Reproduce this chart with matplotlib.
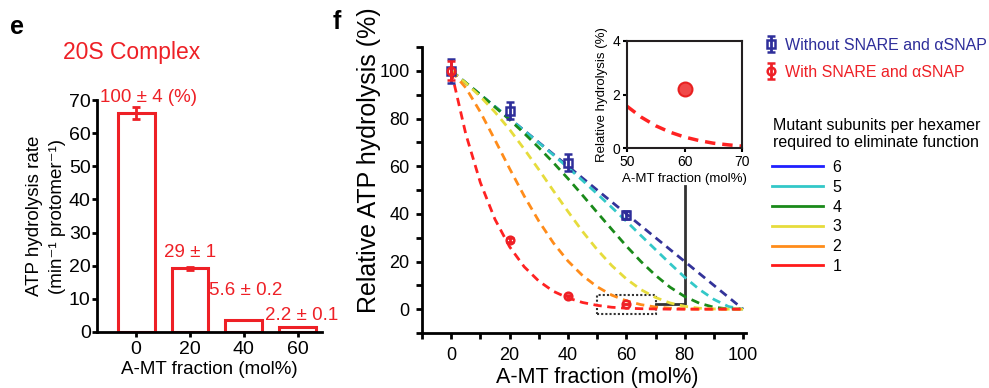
import matplotlib
matplotlib.use("Agg")
import matplotlib.pyplot as plt
from matplotlib.lines import Line2D
from matplotlib.patches import Rectangle

plt.rcParams['font.family'] = ['Liberation Sans', 'DejaVu Sans']

# ---- panel e: 20S complex ATPase rate ----
e_fraction = [0, 20, 40, 60]
e_rate = [66.0, 19.2, 3.7, 1.5]
e_err = [1.8, 0.4, 0.1, 0.05]
e_labels = ["100 ± 4 (%)", "29 ± 1", "5.6 ± 0.2", "2.2 ± 0.1"]
e_label_x = [4.6, 20, 40.8, 61.3]
e_label_y = [70.9, 24.1, 12.4, 5.1]

# ---- panel f: measured relative hydrolysis ----
f_fraction = [0, 20, 40, 60]
without_y = [100, 83.3, 61.5, 39.5]
without_err = [5.0, 3.7, 3.5, 1.5]
with_y = [100, 29.0, 5.6, 2.2]
with_err = [4.0, 1.0, 0.2, 0.1]

# model curves (every 5 mol%)
model_x = [0, 5, 10, 15, 20, 25, 30, 35, 40, 45, 50, 55, 60, 65, 70, 75, 80, 85, 90, 95, 100]
curve_6 = [100, 95, 90, 85, 80, 75, 70, 65, 60, 55, 50, 45, 40, 35, 30, 25, 20, 15, 10, 5, 0]
curve_5 = [100, 95.0, 90.0, 85.0, 80.0, 74.9, 69.8, 64.7, 59.4, 54.0, 48.4, 42.7, 36.9, 30.9, 25.0, 19.1, 13.4, 8.3, 4.1, 1.1, 0]
curve_4 = [100, 95.0, 90.0, 84.8, 79.5, 73.8, 67.8, 61.5, 54.8, 47.8, 40.6, 33.5, 26.5, 20.0, 14.2, 9.2, 5.3, 2.5, 0.8, 0.1, 0]
curve_3 = [100, 94.9, 89.2, 82.7, 75.4, 67.2, 58.6, 49.7, 41.0, 32.6, 25.0, 18.3, 12.7, 8.2, 4.9, 2.6, 1.2, 0.4, 0.1, 0.0, 0]
curve_2 = [100, 92.9, 82.7, 71.0, 59.0, 47.5, 37.0, 27.8, 20.2, 14.1, 9.4, 5.9, 3.5, 1.9, 0.9, 0.4, 0.1, 0.0, 0, 0, 0]
curve_1 = [100, 73.5, 53.1, 37.7, 26.2, 17.8, 11.8, 7.5, 4.7, 2.8, 1.6, 0.8, 0.4, 0.2, 0.1, 0, 0, 0, 0, 0, 0]

# inset (zoom of 50-70 mol%)
inset_x = [50, 52.5, 55, 57.5, 60, 62.5, 65, 67.5, 70]
inset_curve = [1.56, 1.15, 0.83, 0.59, 0.41, 0.28, 0.18, 0.12, 0.07]
inset_point_x = [60]
inset_point_y = [2.2]
inset_point_err = [0.1]

# zoom box and connector in main axes
zoom_box = [50, 70, -2, 6]
connector_x = [70, 80, 80]
connector_y = [2, 2, 51.5]

n_labels = ['6', '5', '4', '3', '2', '1']
curve_colors = ['#333399', '#33c8c8', '#1a8a1a', '#e6dc3c', '#ff8c1a', '#ff2222']
legend_colors = ['#2020ff', '#33c8c8', '#1a8a1a', '#e6dc3c', '#ff8c1a', '#ff1a1a']

RED = '#ee2026'
BLUE = '#2e2e9a'

fig = plt.figure(figsize=(9.89, 3.88), dpi=100)

# ================= panel e =================
ax_e = fig.add_axes([97/989, 56/388, 225/989, 232/388])
ax_e.bar(e_fraction, e_rate, width=13.7, facecolor='white', edgecolor=RED, linewidth=2.2)
ax_e.errorbar(e_fraction[:2], e_rate[:2], yerr=e_err[:2], fmt='none', ecolor=RED,
              elinewidth=2, capsize=3, capthick=2)
for lx, ly, txt in zip(e_label_x, e_label_y, e_labels):
    ax_e.text(lx, ly, txt, color=RED, fontsize=13.5, ha='center', va='center', clip_on=False)

ax_e.set_xlim(-14.5, 69)
ax_e.set_ylim(0, 70)
ax_e.set_xticks(e_fraction)
ax_e.set_yticks(range(0, 71, 10))
for s in ['top', 'right']:
    ax_e.spines[s].set_visible(False)
for s in ['left', 'bottom']:
    ax_e.spines[s].set_linewidth(2)
ax_e.tick_params(axis='both', direction='out', length=3.5, width=2, labelsize=14)
ax_e.tick_params(axis='y', pad=1)
ax_e.tick_params(axis='x', pad=3)
ax_e.set_xlabel("A-MT fraction (mol%)", fontsize=13.5)
ax_e.xaxis.set_label_coords(0.5, -0.125)
ax_e.set_ylabel("ATP hydrolysis rate\n(min⁻¹ protomer⁻¹)", fontsize=13.5, linespacing=1.4)
ax_e.yaxis.set_label_coords(-0.14, 0.5)

fig.text(132/989, 1 - 52/388, "20S Complex", color=RED, fontsize=16.5, ha='center', va='center')
fig.text(17/989, 1 - 27/388, "e", fontsize=18, fontweight='bold', ha='center', va='center')
fig.text(337/989, 1 - 22/388, "f", fontsize=18, fontweight='bold', ha='center', va='center')

# ================= panel f =================
ax_f = fig.add_axes([422/989, 55/388, 324/989, 286/388])
curves = [curve_6, curve_5, curve_4, curve_3, curve_2, curve_1]
for ys, c in zip(curves, curve_colors):
    ax_f.plot(model_x, ys, color=c, lw=2, linestyle=(0, (3, 2)), zorder=2)

x0, x1, y0, y1 = zoom_box
ax_f.add_patch(Rectangle((x0, y0), x1 - x0, y1 - y0, fill=False, edgecolor='#333333',
                         lw=1.5, linestyle=(0, (1, 1)), zorder=1))
ax_f.plot(connector_x, connector_y, color='#333333', lw=2, zorder=1, clip_on=False)

h_without = ax_f.errorbar(f_fraction, without_y, yerr=without_err, fmt='s', ms=5.5,
                          mfc='none', mec=BLUE, mew=1.8, ecolor=BLUE, elinewidth=2,
                          capsize=3, capthick=2, zorder=4)
h_with = ax_f.errorbar(f_fraction, with_y, yerr=with_err, fmt='o', ms=5.5,
                       mfc='none', mec=RED, mew=1.8, ecolor=RED, elinewidth=2,
                       capsize=3, capthick=2, zorder=5)

ax_f.set_xlim(-10, 101)
ax_f.set_ylim(-10, 110)
ax_f.set_xticks([0, 20, 40, 60, 80, 100])
ax_f.set_xticks(range(-10, 101, 10), minor=True)
ax_f.set_yticks([0, 20, 40, 60, 80, 100])
ax_f.set_yticks(range(-10, 111, 10), minor=True)
for s in ['top', 'right']:
    ax_f.spines[s].set_visible(False)
for s in ['left', 'bottom']:
    ax_f.spines[s].set_linewidth(2)
ax_f.tick_params(which='both', direction='out', length=4, width=2)
ax_f.tick_params(axis='both', labelsize=13)
ax_f.tick_params(axis='x', pad=6)
ax_f.tick_params(axis='y', pad=5)
ax_f.set_xlabel("A-MT fraction (mol%)", fontsize=15.5)
ax_f.xaxis.set_label_coords(0.542, -0.118)
ax_f.set_ylabel("Relative ATP hydrolysis (%)", fontsize=18)
ax_f.yaxis.set_label_coords(-0.128, 0.603)

leg1 = ax_f.legend([h_without, h_with], ["Without SNARE and αSNAP", "With SNARE and αSNAP"],
                   loc='upper left', bbox_to_anchor=(763/989, 1 - 38/388),
                   bbox_transform=fig.transFigure, frameon=False, fontsize=11.5,
                   handlelength=1.0, handletextpad=0.35, labelspacing=0.75,
                   borderpad=0, borderaxespad=0)
leg1.get_texts()[0].set_color(BLUE)
leg1.get_texts()[1].set_color(RED)
ax_f.add_artist(leg1)

fig.text(773/989, 1 - 134/388, "Mutant subunits per hexamer\nrequired to eliminate function",
         fontsize=11.5, ha='left', va='center', linespacing=1.15)

line_handles = [Line2D([0], [0], color=c, lw=2) for c in legend_colors]
leg2 = ax_f.legend(line_handles, n_labels,
                   loc='upper left', bbox_to_anchor=(772/989, 1 - 160/388),
                   bbox_transform=fig.transFigure, frameon=False, fontsize=11.5,
                   handlelength=3.2, handletextpad=0.6, labelspacing=0.3,
                   borderpad=0, borderaxespad=0)

# ================= inset =================
ax_in = fig.add_axes([627/989, 240/388, 115/989, 107/388])
ax_in.plot(inset_x, inset_curve, color='#ff2222', lw=2.5, linestyle=(0, (3, 2)))
ax_in.errorbar(inset_point_x, inset_point_y, yerr=inset_point_err, fmt='o', ms=10,
               mfc='#f04848', mec='#e82020', mew=1.5, ecolor='#c81010', capsize=3)
ax_in.set_xlim(50, 70)
ax_in.set_ylim(0, 4)
ax_in.set_xticks([50, 60, 70])
ax_in.set_yticks([0, 2, 4])
for s in ax_in.spines.values():
    s.set_linewidth(1.5)
    s.set_color('#231f20')
ax_in.tick_params(direction='out', length=3, width=1.5, labelsize=10, pad=2)
ax_in.set_xlabel("A-MT fraction (mol%)", fontsize=9.5, labelpad=3)
ax_in.set_ylabel("Relative hydrolysis (%)", fontsize=9.5, labelpad=3)

fig.savefig("out.png", dpi=100)
